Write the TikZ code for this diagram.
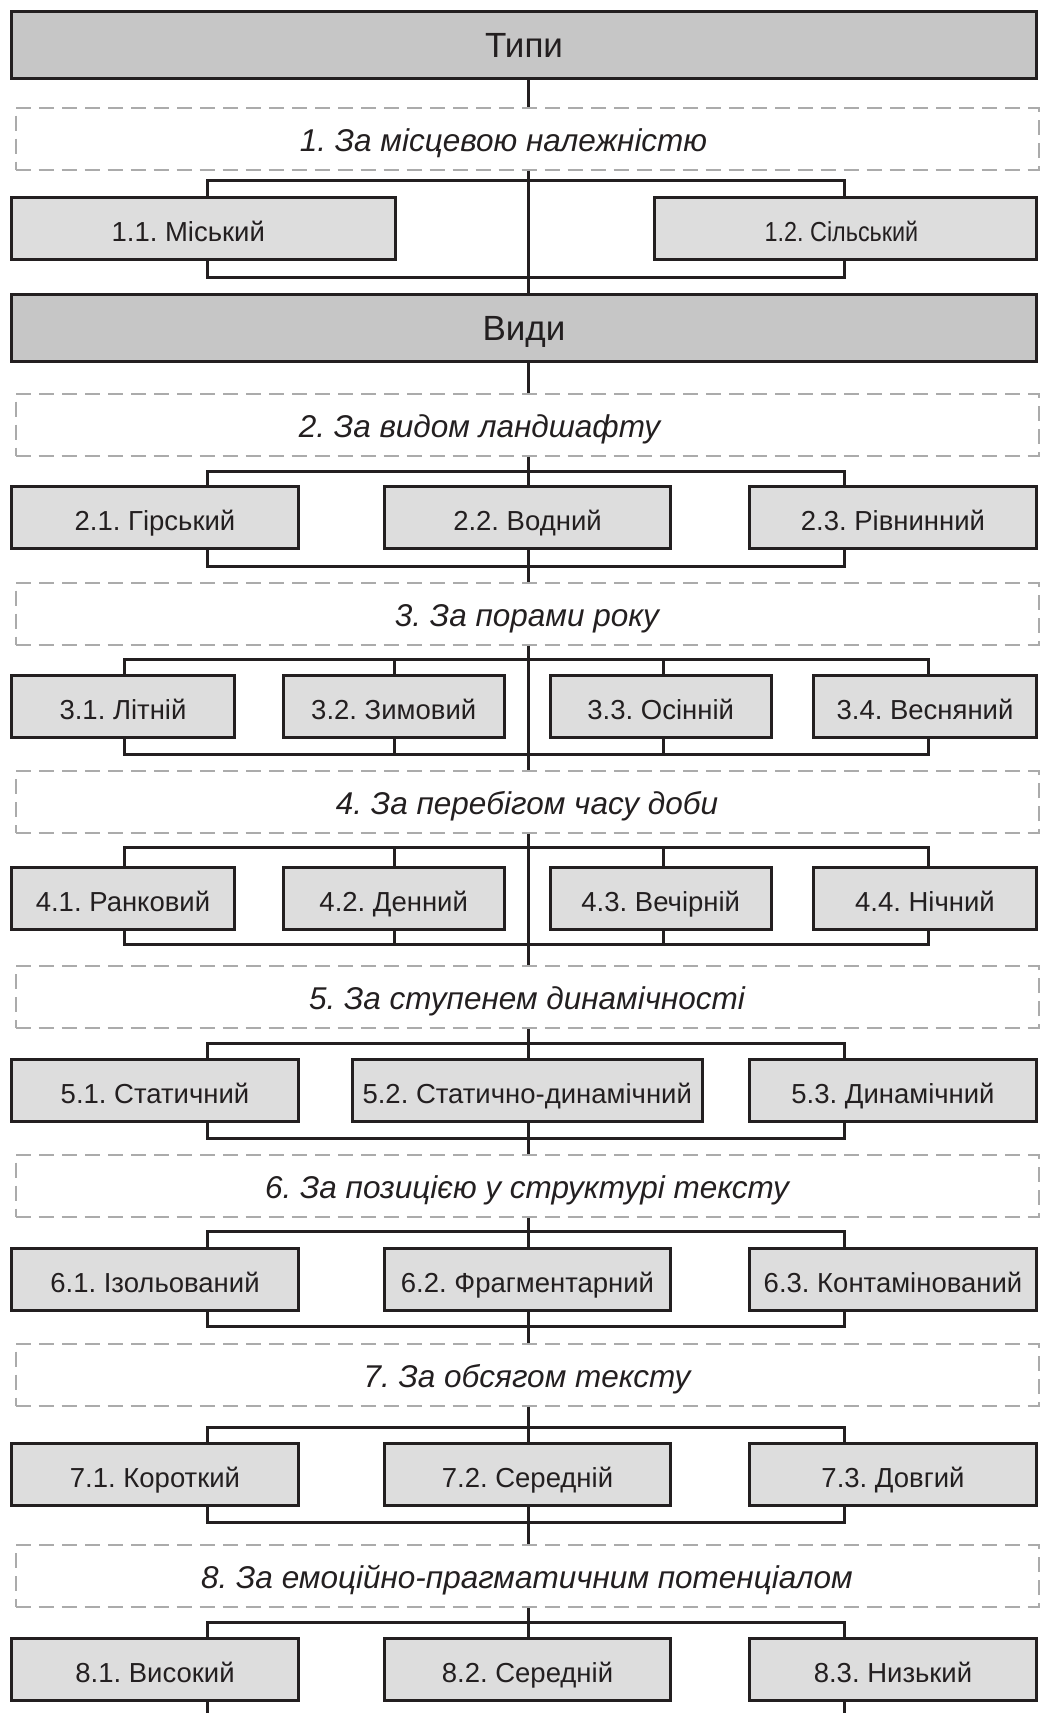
\documentclass[tikz,border=0pt]{standalone}
\usepackage{fontspec}
\usepackage{graphicx}
\setmainfont{Liberation Sans}
\definecolor{linec}{HTML}{231F20}
\definecolor{mainfill}{HTML}{C6C6C6}
\definecolor{subfill}{HTML}{DDDDDD}
\definecolor{dashc}{HTML}{ABABAB}
\definecolor{txtc}{HTML}{231F20}
\frenchspacing
\begin{document}
\frenchspacing
\begin{tikzpicture}[x=1pt,y=-1pt,
  mainbox/.style={draw=linec,line width=3pt,fill=mainfill,text=txtc,inner sep=0pt,
    minimum width=1025pt,minimum height=67pt,
    font=\fontsize{35}{40}\selectfont,text height=25pt,text depth=0pt},
  subbox/.style={draw=linec,line width=3pt,fill=subfill,text=txtc,inner sep=0pt,
    minimum height=62pt,font=\fontsize{27.5}{31}\selectfont,text height=26pt,text depth=0pt},
  catbox/.style={draw=dashc,line width=2pt,dash pattern=on 15pt off 8pt,inner sep=0pt,
    minimum width=1023pt,minimum height=62pt,font=\fontsize{31.5}{36}\selectfont\itshape,
    text=txtc,text height=25pt,text depth=0pt},
  conn/.style={draw=linec,line width=3pt}]
\fill[white] (0,0) rectangle (1040,1713);
\useasboundingbox (0,0) rectangle (1040,1713);
% helper coordinates
\coordinate (cx) at (528,0);
\coordinate (lx) at (207.5,0);
\coordinate (rx) at (844,0);
\coordinate (qa) at (124,0);
\coordinate (qb) at (394.5,0);
\coordinate (qc) at (663,0);
\coordinate (qd) at (928,0);
\coordinate (t1) at (0,180);  \coordinate (u1) at (0,277);
\coordinate (t2) at (0,471);  \coordinate (u2) at (0,566);
\coordinate (t3) at (0,659);  \coordinate (u3) at (0,754);
\coordinate (t4) at (0,847);  \coordinate (u4) at (0,944);
\coordinate (t5) at (0,1043); \coordinate (u5) at (0,1138);
\coordinate (t6) at (0,1231); \coordinate (u6) at (0,1326);
\coordinate (t7) at (0,1427); \coordinate (u7) at (0,1522);
\coordinate (t8) at (0,1622); \coordinate (bot) at (0,1716);
% nodes
\node[mainbox] (tipy) at (524,45) {Типи};
\node[catbox] (d1) at (527,138.5) {\hspace*{-47pt}1. За місцевою належністю};
\node[subbox,minimum width=383.5pt] (b11) at (203.25,228.5) {\hspace*{-30pt}1.1. Міський};
\node[subbox,minimum width=382pt] (b12) at (845.5,228.5) {\hspace*{-8pt}\scalebox{0.85}[1]{1.2. Сільський}};
\node[mainbox] (vydy) at (524,327.5) {Види};

\node[catbox] (d2) at (527,424.5) {\hspace*{-95pt}2. За видом ландшафту};
\node[subbox,minimum width=287pt] (b21) at (155,517.5) {2.1. Гірський};
\node[subbox,minimum width=286pt] (b22) at (527.5,517.5) {2.2. Водний};
\node[subbox,minimum width=287pt] (b23) at (893,517.5) {2.3. Рівнинний};

\node[catbox] (d3) at (527,613.5) {3. За порами року};
\node[subbox,minimum width=223pt] (b31) at (123,706) {3.1. Літній};
\node[subbox,minimum width=221.5pt] (b32) at (393.75,706) {3.2. Зимовий};
\node[subbox,minimum width=220.5pt] (b33) at (660.75,706) {3.3. Осінній};
\node[subbox,minimum width=223pt] (b34) at (925,706) {3.4. Весняний};

\node[catbox] (d4) at (527,802) {4. За перебігом часу доби};
\node[subbox,minimum width=223pt] (b41) at (123,898) {4.1. Ранковий};
\node[subbox,minimum width=221.5pt] (b42) at (393.75,898) {4.2. Денний};
\node[subbox,minimum width=220.5pt] (b43) at (660.75,898) {4.3. Вечірній};
\node[subbox,minimum width=223pt] (b44) at (925,898) {4.4. Нічний};

\node[catbox] (d5) at (527,997) {5. За ступенем динамічності};
\node[subbox,minimum width=287pt] (b51) at (155,1090) {5.1. Статичний};
\node[subbox,minimum width=349.5pt] (b52) at (527.25,1090) {5.2. Статично-динамічний};
\node[subbox,minimum width=287pt] (b53) at (893,1090) {5.3. Динамічний};

\node[catbox] (d6) at (527,1185.5) {6. За позицією у структурі тексту};
\node[subbox,minimum width=287pt] (b61) at (155,1279) {6.1. Ізольований};
\node[subbox,minimum width=286pt] (b62) at (527.5,1279) {6.2. Фрагментарний};
\node[subbox,minimum width=287pt] (b63) at (893,1279) {6.3. Контамінований};

\node[catbox] (d7) at (527,1374.5) {7. За обсягом тексту};
\node[subbox,minimum width=287pt] (b71) at (155,1474) {7.1. Короткий};
\node[subbox,minimum width=286pt] (b72) at (527.5,1474) {7.2. Середній};
\node[subbox,minimum width=287pt] (b73) at (893,1474) {7.3. Довгий};

\node[catbox] (d8) at (527,1576) {8. За емоційно-прагматичним потенціалом};
\node[subbox,minimum width=287pt] (b81) at (155,1669) {8.1. Високий};
\node[subbox,minimum width=286pt] (b82) at (527.5,1669) {8.2. Середній};
\node[subbox,minimum width=287pt] (b83) at (893,1669) {8.3. Низький};

% connectors: level 1
\draw[conn] (tipy.south -| cx) -- (d1.north -| cx);
\draw[conn] (d1.south -| cx) -- (vydy.north -| cx);
\draw[conn] (b11.north -| lx) |- (rx |- t1) -- (b12.north -| rx);
\draw[conn] (b11.south -| lx) |- (rx |- u1) -- (b12.south -| rx);
% level 2
\draw[conn] (vydy.south -| cx) -- (d2.north -| cx);
\draw[conn] (d2.south -| cx) -- (b22.north -| cx);
\draw[conn] (b21.north -| lx) |- (rx |- t2) -- (b23.north -| rx);
\draw[conn] (b21.south -| lx) |- (rx |- u2) -- (b23.south -| rx);
\draw[conn] (b22.south -| cx) -- (d3.north -| cx);
% level 3
\draw[conn] (d3.south -| cx) -- (d4.north -| cx);
\draw[conn] (b31.north -| qa) |- (qd |- t3) -- (b34.north -| qd);
\draw[conn] (b32.north -| qb) -- (qb |- t3);
\draw[conn] (b33.north -| qc) -- (qc |- t3);
\draw[conn] (b31.south -| qa) |- (qd |- u3) -- (b34.south -| qd);
\draw[conn] (b32.south -| qb) -- (qb |- u3);
\draw[conn] (b33.south -| qc) -- (qc |- u3);
% level 4
\draw[conn] (d4.south -| cx) -- (d5.north -| cx);
\draw[conn] (b41.north -| qa) |- (qd |- t4) -- (b44.north -| qd);
\draw[conn] (b42.north -| qb) -- (qb |- t4);
\draw[conn] (b43.north -| qc) -- (qc |- t4);
\draw[conn] (b41.south -| qa) |- (qd |- u4) -- (b44.south -| qd);
\draw[conn] (b42.south -| qb) -- (qb |- u4);
\draw[conn] (b43.south -| qc) -- (qc |- u4);
% level 5
\draw[conn] (d5.south -| cx) -- (b52.north -| cx);
\draw[conn] (b51.north -| lx) |- (rx |- t5) -- (b53.north -| rx);
\draw[conn] (b51.south -| lx) |- (rx |- u5) -- (b53.south -| rx);
\draw[conn] (b52.south -| cx) -- (d6.north -| cx);
% level 6
\draw[conn] (d6.south -| cx) -- (b62.north -| cx);
\draw[conn] (b61.north -| lx) |- (rx |- t6) -- (b63.north -| rx);
\draw[conn] (b61.south -| lx) |- (rx |- u6) -- (b63.south -| rx);
\draw[conn] (b62.south -| cx) -- (d7.north -| cx);
% level 7
\draw[conn] (d7.south -| cx) -- (b72.north -| cx);
\draw[conn] (b71.north -| lx) |- (rx |- t7) -- (b73.north -| rx);
\draw[conn] (b71.south -| lx) |- (rx |- u7) -- (b73.south -| rx);
\draw[conn] (b72.south -| cx) -- (d8.north -| cx);
% level 8
\draw[conn] (d8.south -| cx) -- (b82.north -| cx);
\draw[conn] (b81.north -| lx) |- (rx |- t8) -- (b83.north -| rx);
\draw[conn] (b81.south -| lx) -- (lx |- bot);
\draw[conn] (b83.south -| rx) -- (rx |- bot);
\end{tikzpicture}
\end{document}
